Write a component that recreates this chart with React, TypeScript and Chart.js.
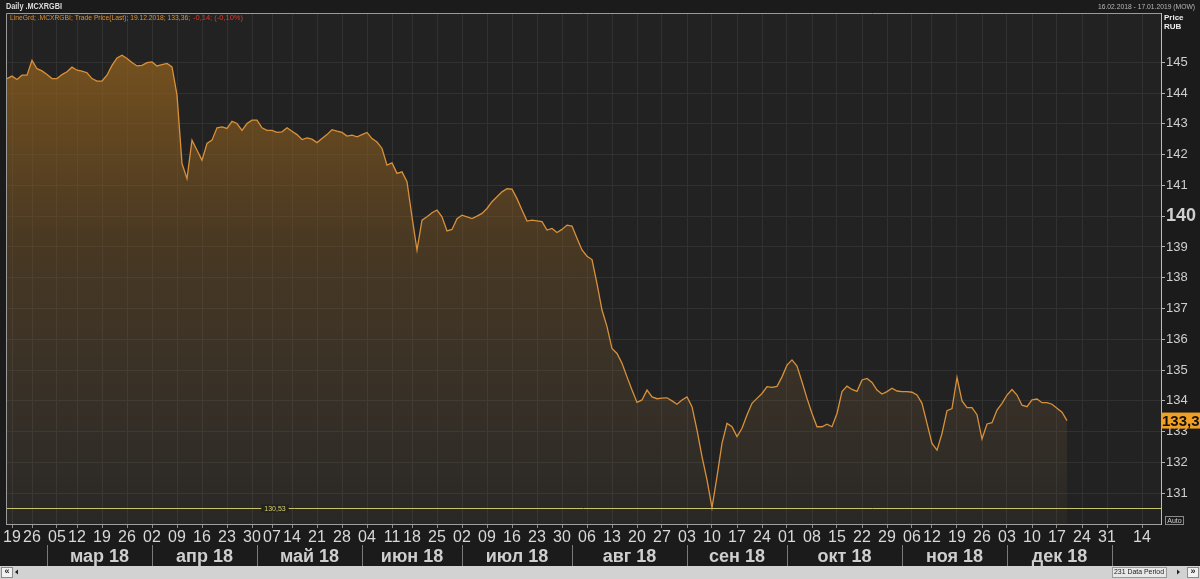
import React, { useEffect, useRef } from 'react';
import { Chart, registerables } from 'chart.js';

Chart.register(...registerables);

// Trading-day closing values of .MCXRGBI, 16.02.2018 .. 19.12.2018 (index = trading day)
const VALUES: number[] = [
  144.47, 144.55, 144.44, 144.58, 144.58, 145.06, 144.79, 144.72, 144.6, 144.47,
  144.47, 144.6, 144.69, 144.84, 144.74, 144.71, 144.66, 144.47, 144.39, 144.39,
  144.58, 144.9, 145.14, 145.23, 145.12, 144.99, 144.88, 144.9, 144.99, 145.01,
  144.88, 144.92, 144.96, 144.85, 143.93, 141.71, 141.22, 142.47, 142.14, 141.82,
  142.36, 142.47, 142.87, 142.9, 142.85, 143.08, 143.01, 142.79, 143.01, 143.12,
  143.12, 142.87, 142.79, 142.79, 142.72, 142.74, 142.87, 142.76, 142.65, 142.49,
  142.54, 142.5, 142.39, 142.52, 142.65, 142.81, 142.76, 142.72, 142.6, 142.63,
  142.58, 142.65, 142.72, 142.52, 142.41, 142.2, 141.66, 141.73, 141.39, 141.44,
  141.12, 139.98, 138.9, 139.87, 139.98, 140.11, 140.2, 139.98, 139.52, 139.57,
  139.92, 140.03, 139.98, 139.92, 140.0, 140.09, 140.25, 140.47, 140.63, 140.79,
  140.89, 140.88, 140.57, 140.2, 139.84, 139.87, 139.85, 139.82, 139.55, 139.6,
  139.47, 139.57, 139.71, 139.68, 139.28, 138.9, 138.7, 138.59, 137.81, 136.95,
  136.41, 135.7, 135.54, 135.22, 134.78, 134.35, 133.95, 134.03, 134.35, 134.13,
  134.07, 134.09, 134.1, 134.0, 133.89, 134.03, 134.13, 133.81, 133.05, 132.19,
  131.43, 130.53, 131.54, 132.62, 133.27, 133.16, 132.84, 133.11, 133.54, 133.92,
  134.08, 134.24, 134.46, 134.44, 134.47, 134.78, 135.16, 135.33, 135.13, 134.62,
  134.08, 133.59, 133.16, 133.16, 133.24, 133.16, 133.59, 134.3, 134.48, 134.37,
  134.31, 134.68, 134.73, 134.6, 134.35, 134.22, 134.3, 134.41, 134.32, 134.3,
  134.3, 134.28, 134.19, 133.92, 133.27, 132.62, 132.4, 132.94, 133.68, 133.75,
  134.76, 134.0, 133.78, 133.78, 133.55, 132.76, 133.25, 133.29, 133.7, 133.92,
  134.19, 134.37, 134.19, 133.86, 133.81, 134.03, 134.06, 133.94, 133.94, 133.89,
  133.76, 133.63, 133.36,
];

const PERIODS = 231;

const WEEK_IDX: number[] = [
  1, 5, 10, 14, 19, 24, 29, 34, 39, 44, 49, 53, 57, 62, 67, 72, 77, 81, 86, 91, 96, 101, 106, 111,
  116, 121, 126, 131, 136, 141, 146, 151, 156, 161, 166, 171, 176, 181, 185, 190, 195, 200, 205,
  210, 215, 220, 227,
];
const WEEK_LABELS: string[] = [
  '19', '26', '05', '12', '19', '26', '02', '09', '16', '23', '30', '07', '14', '21', '28', '04',
  '11', '18', '25', '02', '09', '16', '23', '30', '06', '13', '20', '27', '03', '10', '17', '24',
  '01', '08', '15', '22', '29', '06', '12', '19', '26', '03', '10', '17', '24', '31', '14',
];

const MONTH_START: number[] = [8, 29, 50, 71, 91, 113, 136, 156, 179, 200, 221];
const MONTH_LABELS: string[] = [
  'мар 18', 'апр 18', 'май 18', 'июн 18', 'июл 18', 'авг 18', 'сен 18', 'окт 18', 'ноя 18', 'дек 18',
];

const Y_TICKS: number[] = [131, 132, 133, 134, 135, 136, 137, 138, 139, 140, 141, 142, 143, 144, 145];
const Y_MIN = 130.0;
const Y_MAX = 146.6;

const MIN_LINE = 130.53;
const LAST_VALUE = 133.36;

const FONT = "'Liberation Sans', Arial, sans-serif";

const fmt = (v: number) => v.toFixed(2).replace('.', ',');

const overlay = {
  id: 'overlay',
  beforeDraw(chart: any) {
    const { ctx, chartArea: a, width, height } = chart;
    ctx.save();
    ctx.fillStyle = '#1b1b1b';
    ctx.fillRect(0, 0, width, height);
    ctx.fillStyle = '#222222';
    ctx.fillRect(a.left, a.top, a.right - a.left, a.bottom - a.top);
    ctx.restore();
  },
  afterDatasetsDraw(chart: any) {
    const { ctx, chartArea: a } = chart;
    const y = Math.round(chart.scales.y.getPixelForValue(MIN_LINE)) + 0.5;
    ctx.save();
    ctx.strokeStyle = '#c9c36a';
    ctx.lineWidth = 1;
    ctx.beginPath();
    ctx.moveTo(a.left, y);
    ctx.lineTo(a.right, y);
    ctx.stroke();
    ctx.font = `7px ${FONT}`;
    const label = fmt(MIN_LINE);
    const w = ctx.measureText(label).width;
    const cx = 275;
    ctx.fillStyle = '#222222';
    ctx.fillRect(cx - w / 2 - 3, y - 4, w + 6, 8);
    ctx.fillStyle = '#d8cf6c';
    ctx.textAlign = 'center';
    ctx.textBaseline = 'middle';
    ctx.fillText(label, cx, y + 0.5);
    ctx.restore();
  },
  afterDraw(chart: any) {
    const { ctx, chartArea: a, width } = chart;
    const xs = chart.scales.x;
    ctx.save();

    // frame (left / top)
    ctx.strokeStyle = '#9a9a9a';
    ctx.lineWidth = 1;
    ctx.beginPath();
    ctx.moveTo(a.left + 0.5, a.bottom);
    ctx.lineTo(a.left + 0.5, a.top + 0.5);
    ctx.lineTo(a.right, a.top + 0.5);
    ctx.stroke();

    // header
    ctx.fillStyle = '#dddddd';
    ctx.font = `bold 9px ${FONT}`;
    ctx.textBaseline = 'middle';
    ctx.textAlign = 'left';
    ctx.fillText('Daily .MCXRGBI', 6, 7, 56);
    ctx.fillStyle = '#b8b8b8';
    ctx.font = `8px ${FONT}`;
    ctx.textAlign = 'right';
    ctx.fillText('16.02.2018 - 17.01.2019 (MOW)', 1195, 7, 97);

    // legend line
    ctx.textAlign = 'left';
    ctx.font = `8px ${FONT}`;
    ctx.fillStyle = '#e0902e';
    ctx.fillText(`LineGrd; .MCXRGBI; Trade Price(Last); 19.12.2018; ${fmt(LAST_VALUE)};`, 10, 18, 180);
    ctx.fillStyle = '#e03a2a';
    ctx.fillText('-0,14; (-0,10%)', 193, 18, 50);

    // Price / RUB
    ctx.fillStyle = '#eeeeee';
    ctx.font = `bold 8px ${FONT}`;
    ctx.fillText('Price', 1164, 18);
    ctx.fillText('RUB', 1164, 27);

    // Auto box
    ctx.strokeStyle = '#8a8a8a';
    ctx.strokeRect(1165.5, 516.5, 18, 8);
    ctx.fillStyle = '#cccccc';
    ctx.font = `7px ${FONT}`;
    ctx.textAlign = 'center';
    ctx.fillText('Auto', 1174.5, 521);

    // last value box
    const ly = chart.scales.y.getPixelForValue(LAST_VALUE);
    ctx.fillStyle = '#f2a024';
    ctx.fillRect(1161, ly - 8, 39, 16);
    ctx.fillStyle = '#111111';
    ctx.font = `bold 15px ${FONT}`;
    ctx.textAlign = 'left';
    ctx.fillText(fmt(LAST_VALUE), 1162, ly + 1);

    // month separators & labels
    ctx.strokeStyle = '#7a7a7a';
    ctx.beginPath();
    MONTH_START.forEach((m) => {
      const x = Math.round(xs.getPixelForValue(m)) + 0.5;
      ctx.moveTo(x, 545);
      ctx.lineTo(x, 566);
    });
    ctx.stroke();
    ctx.fillStyle = '#cfcfcf';
    ctx.font = `bold 18px ${FONT}`;
    ctx.textAlign = 'center';
    MONTH_LABELS.forEach((lab, i) => {
      const x0 = xs.getPixelForValue(MONTH_START[i]);
      const x1 = xs.getPixelForValue(MONTH_START[i + 1]);
      ctx.fillText(lab, (x0 + x1) / 2, 557);
    });

    // bottom scroll bar
    ctx.fillStyle = '#d2d2d2';
    ctx.fillRect(0, 566, width, 13);
    ctx.fillStyle = '#f2f2f2';
    ctx.fillRect(1, 567, 11, 10);
    ctx.strokeStyle = '#8c8c8c';
    ctx.strokeRect(1.5, 567.5, 11, 10);
    ctx.fillStyle = '#222222';
    ctx.font = `bold 9px ${FONT}`;
    ctx.fillText('«', 7, 572);
    ctx.beginPath();
    ctx.moveTo(18, 569.5);
    ctx.lineTo(15, 572);
    ctx.lineTo(18, 574.5);
    ctx.fill();

    ctx.fillStyle = '#e8e8e8';
    ctx.fillRect(1112, 567, 54, 10);
    ctx.strokeStyle = '#9a9a9a';
    ctx.strokeRect(1112.5, 567.5, 54, 10);
    ctx.fillStyle = '#222222';
    ctx.font = `7px ${FONT}`;
    ctx.fillText('231 Data Period', 1139, 572.5, 50);
    ctx.beginPath();
    ctx.moveTo(1177, 569.5);
    ctx.lineTo(1180, 572);
    ctx.lineTo(1177, 574.5);
    ctx.fill();
    ctx.fillStyle = '#f2f2f2';
    ctx.fillRect(1187, 567, 12, 10);
    ctx.strokeStyle = '#8c8c8c';
    ctx.strokeRect(1187.5, 567.5, 11, 10);
    ctx.fillStyle = '#222222';
    ctx.font = `bold 9px ${FONT}`;
    ctx.fillText('»', 1193, 572);

    ctx.restore();
  },
};

export default function App() {
  const ref = useRef<HTMLCanvasElement>(null);

  useEffect(() => {
    if (!ref.current) return;
    const chart = new Chart(ref.current, {
      type: 'line',
      data: {
        datasets: [
          {
            data: VALUES.map((v, i) => ({ x: i, y: v })),
            borderColor: '#d8913a',
            borderWidth: 1.3,
            pointRadius: 0,
            tension: 0,
            fill: 'start',
            backgroundColor: (c: any) => {
              const area = c.chart.chartArea;
              if (!area) return 'rgba(140,94,30,0.5)';
              const g = c.chart.ctx.createLinearGradient(0, area.top, 0, area.bottom);
              g.addColorStop(0, 'rgba(145,96,28,0.85)');
              g.addColorStop(0.45, 'rgba(135,92,35,0.38)');
              g.addColorStop(1, 'rgba(130,105,75,0.08)');
              return g;
            },
          },
        ],
      },
      options: {
        animation: false,
        responsive: false,
        events: [],
        layout: { padding: { left: 6, top: 13, right: 0, bottom: 0 } },
        plugins: { legend: { display: false }, tooltip: { enabled: false } },
        scales: {
          x: {
            type: 'linear',
            min: -0.2,
            max: PERIODS - 0.2,
            afterBuildTicks: (s: any) => {
              s.ticks = WEEK_IDX.map((v) => ({ value: v }));
            },
            afterFit: (s: any) => {
              s.height = 55;
            },
            ticks: {
              autoSkip: false,
              maxRotation: 0,
              minRotation: 0,
              padding: 0,
              color: '#d8d8d8',
              font: { family: FONT, size: 16 },
              callback: (_v: any, i: number) => WEEK_LABELS[i],
            },
            grid: { color: '#313131', tickColor: '#8a8a8a', tickLength: 4 },
            border: { display: true, color: '#a0a0a0' },
          },
          y: {
            type: 'linear',
            position: 'right',
            min: Y_MIN,
            max: Y_MAX,
            afterBuildTicks: (s: any) => {
              s.ticks = Y_TICKS.map((v) => ({ value: v }));
            },
            afterFit: (s: any) => {
              s.width = 39;
            },
            ticks: {
              padding: 1,
              color: '#cfcfcf',
              callback: (v: any) => String(v),
              font: (c: any) =>
                c.tick && c.tick.value === 140
                  ? { family: FONT, size: 18, weight: 'bold' }
                  : { family: FONT, size: 13 },
            },
            grid: { color: '#313131', tickColor: '#b0b0b0', tickLength: 4 },
            border: { display: true, color: '#bdbdbd' },
          },
        },
      },
      plugins: [overlay],
    } as any);
    return () => chart.destroy();
  }, []);

  return (
    <div style={{ position: 'fixed', left: 0, top: 0, width: 1200, height: 579, background: '#1b1b1b' }}>
      <canvas ref={ref} width={1200} height={579} style={{ display: 'block', width: 1200, height: 579 }} />
    </div>
  );
}
